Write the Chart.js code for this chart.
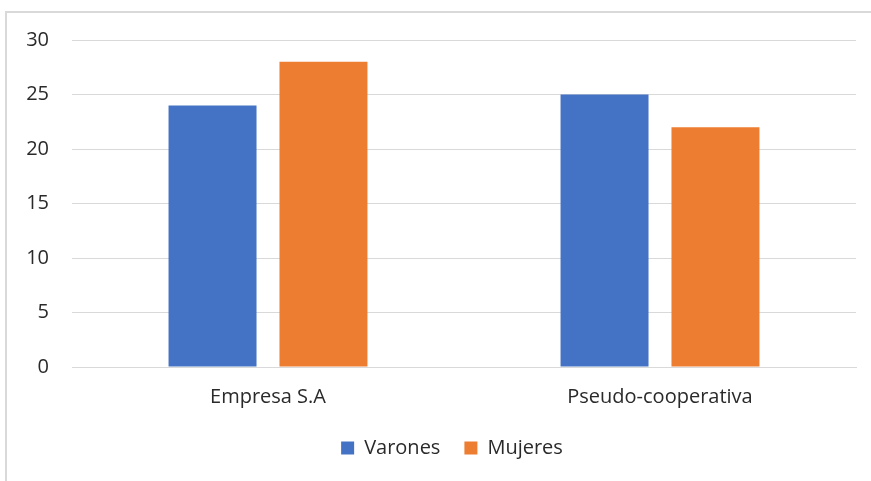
<!DOCTYPE html>
<html>
<head>
<meta charset="utf-8">
<script src="https://cdn.jsdelivr.net/npm/chart.js@4/dist/chart.umd.min.js"></script>
<style>
  html, body { margin: 0; padding: 0; background: #fff; }
  #wrap { position: relative; width: 871px; height: 481px; overflow: hidden; }
  #frame { position: absolute; left: 5px; top: 11px; width: 900px; height: 500px;
           border-left: 2px solid #d9d9d9; border-top: 2px solid #d9d9d9; box-sizing: border-box; }
  canvas { position: absolute; left: 0; top: 0; }
</style>
</head>
<body>
<div id="wrap">
  <div id="frame"></div>
  <canvas id="c" width="871" height="481"></canvas>
</div>
<script>
// Categories and series
const categories = ['Empresa S.A', 'Pseudo-cooperativa'];
const varones = [24, 25];
const mujeres = [28, 22];
const yTicks = [0, 5, 10, 15, 20, 25, 30];

const textColor = '#2a2a2a';
const gridColor = '#d9d9d9';
const fontFamily = '"Open Sans", "Noto Sans", sans-serif';

// The frame is wider than the canvas, so its legend sits a little right of the canvas centre
const legendShift = {
  id: 'legendShift',
  afterLayout(chart) {
    const lg = chart.legend;
    if (lg) { lg.left += 24; lg.right += 24; }
  }
};

new Chart(document.getElementById('c'), {
  type: 'bar',
  data: {
    labels: categories,
    datasets: [
      { label: 'Varones', data: varones, backgroundColor: '#4472C4',
        categoryPercentage: 0.566, barPercentage: 0.793 },
      { label: 'Mujeres', data: mujeres, backgroundColor: '#ED7D31',
        categoryPercentage: 0.566, barPercentage: 0.793 }
    ]
  },
  plugins: [legendShift],
  options: {
    responsive: false,
    animation: false,
    layout: { padding: { left: 0, right: 15, top: 40, bottom: 13 } },
    plugins: {
      tooltip: { enabled: false },
      legend: {
        position: 'bottom',
        labels: {
          color: textColor,
          font: { family: fontFamily, size: 20 },
          boxWidth: 13, boxHeight: 13, padding: 24
        }
      }
    },
    scales: {
      x: {
        grid: { display: false, drawTicks: false },
        border: { display: true, color: gridColor, width: 1 },
        ticks: { color: textColor, font: { family: fontFamily, size: 20 }, padding: 18 },
        afterFit(scale) { scale.height = 47; }
      },
      y: {
        min: 0, max: 30,
        afterBuildTicks(scale) { scale.ticks = yTicks.map(v => ({ value: v })); },
        grid: { color: gridColor, lineWidth: 1, drawTicks: false },
        border: { display: false },
        ticks: { color: textColor, font: { family: fontFamily, size: 20 }, padding: 23 },
        afterFit(scale) { scale.width = 72; }
      }
    }
  }
});
</script>
</body>
</html>
